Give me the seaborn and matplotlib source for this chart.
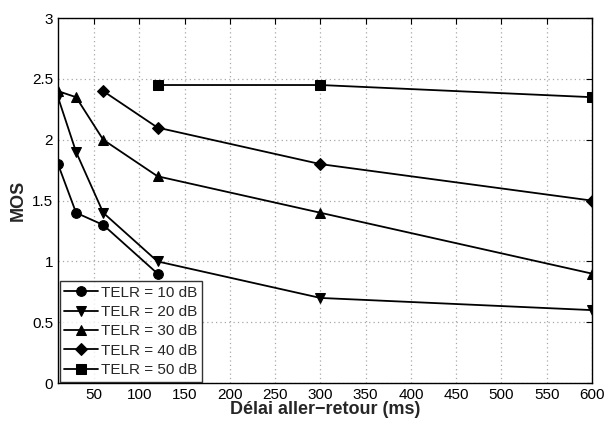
import matplotlib
matplotlib.use("Agg")
import matplotlib.pyplot as plt
import seaborn as sns
import pandas as pd

# Round-trip delay (ms) and MOS per TELR level
delay_10 = [10, 30, 60, 120]
mos_10 = [1.8, 1.4, 1.3, 0.9]
delay_20 = [10, 30, 60, 120, 300, 600]
mos_20 = [2.35, 1.9, 1.4, 1.0, 0.7, 0.6]
delay_30 = [10, 30, 60, 120, 300, 600]
mos_30 = [2.4, 2.35, 2.0, 1.7, 1.4, 0.9]
delay_40 = [60, 120, 300, 600]
mos_40 = [2.4, 2.1, 1.8, 1.5]
delay_50 = [120, 300, 600]
mos_50 = [2.45, 2.45, 2.35]

labels = ["TELR = 10 dB", "TELR = 20 dB", "TELR = 30 dB", "TELR = 40 dB", "TELR = 50 dB"]
x_ticks = [50, 100, 150, 200, 250, 300, 350, 400, 450, 500, 550, 600]
y_ticks = [0, 0.5, 1, 1.5, 2, 2.5, 3]

frames = []
for lab, xs, ys in zip(labels,
                       [delay_10, delay_20, delay_30, delay_40, delay_50],
                       [mos_10, mos_20, mos_30, mos_40, mos_50]):
    frames.append(pd.DataFrame({"delay": xs, "mos": ys, "telr": lab}))
df = pd.concat(frames, ignore_index=True)

sns.set_style("white")
plt.rcParams["font.family"] = ["Liberation Sans", "DejaVu Sans"]

fig = plt.figure(figsize=(6.04, 4.21), dpi=100)
ax = fig.add_axes([0.096, 0.090, 0.884, 0.867])

markers = {labels[0]: "o", labels[1]: "v", labels[2]: "^", labels[3]: "D", labels[4]: "s"}
sizes = {labels[0]: 7, labels[1]: 7, labels[2]: 7, labels[3]: 6, labels[4]: 6.5}
for lab in labels:
    sub = df[df["telr"] == lab]
    sns.lineplot(data=sub, x="delay", y="mos", ax=ax, color="black", marker=markers[lab],
                 markersize=sizes[lab], linewidth=1.3, label=lab, markeredgecolor="black")

ax.set_xlim(10, 600)
ax.set_ylim(0, 3)
ax.set_xticks(x_ticks)
ax.set_yticks(y_ticks)
ax.set_yticklabels(["0", "0.5", "1", "1.5", "2", "2.5", "3"])
ax.grid(True, color="#a8a8a8", linestyle=(0, (1, 2.5)), linewidth=0.9)
for s in ax.spines.values():
    s.set_color("black")
    s.set_linewidth(1.0)
ax.tick_params(direction="in", length=4, labelsize=11, colors="black",
               top=True, right=True)
ax.set_xlabel("Délai aller\u2212retour (ms)", fontsize=13, fontweight="bold", labelpad=-1)
ax.set_ylabel("MOS", fontsize=13, fontweight="bold", labelpad=4)

leg = ax.legend(loc="lower left", fontsize=11, frameon=True, fancybox=False,
                edgecolor="black", borderaxespad=0.1, handlelength=2.2,
                handletextpad=0.2, labelspacing=0.35, borderpad=0.3)
leg.get_frame().set_linewidth(1.0)

fig.savefig("out.png", dpi=100)
